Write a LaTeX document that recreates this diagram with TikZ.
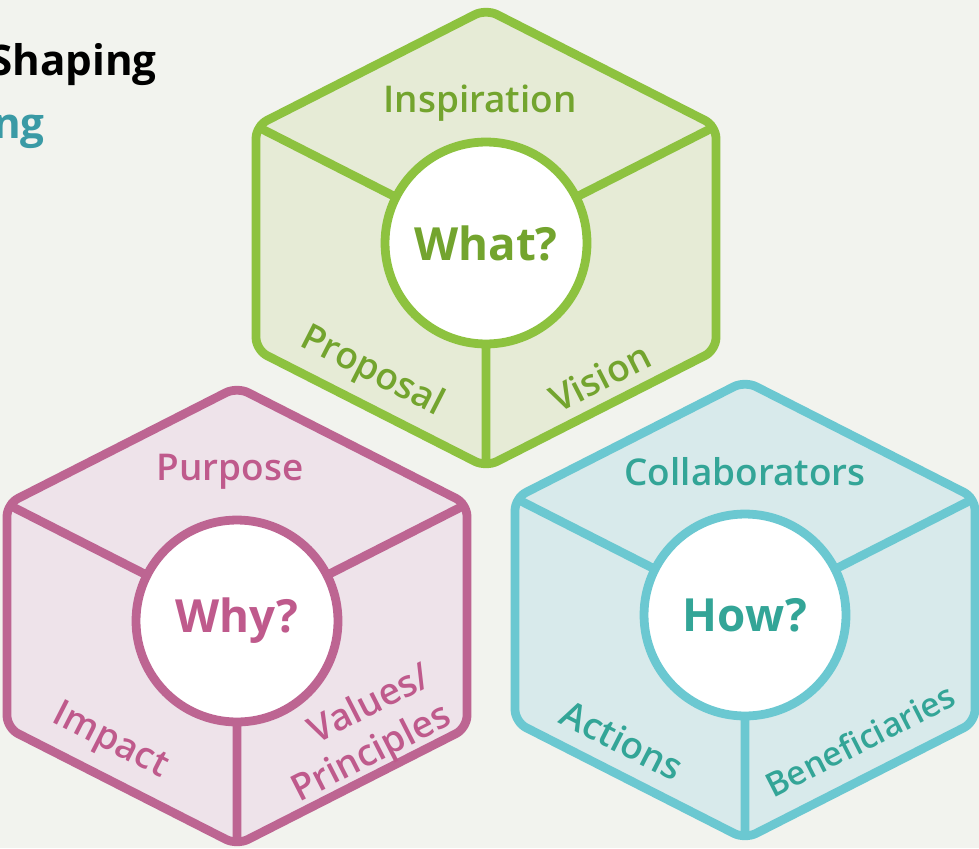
\documentclass[tikz,border=0pt]{standalone}
\usepackage{fontspec}
\setmainfont{Open Sans}[BoldFont={Open Sans Semibold}]
\newfontfamily\titlefont{Open Sans}
\usepackage{tikz}

\definecolor{paper}{HTML}{F2F3EE}
\definecolor{greenline}{HTML}{8DC23F}
\definecolor{greenfill}{HTML}{E6EBD6}
\definecolor{greentext}{HTML}{73A42E}
\definecolor{pinkline}{HTML}{BD6592}
\definecolor{pinkfill}{HTML}{EEE3EA}
\definecolor{pinktext}{HTML}{BF5A8C}
\definecolor{tealline}{HTML}{6BC8D1}
\definecolor{tealfill}{HTML}{D8EAEB}
\definecolor{tealtext}{HTML}{33A597}
\definecolor{titleteal}{HTML}{3A9AA5}

\tikzset{
  face/.style={line width=5pt, line join=round, rounded corners=7pt},
  edge/.style={line width=5pt, shorten <=3pt},
  hub/.style={circle, draw, fill=white, line width=5pt, minimum size=4.04cm, inner sep=0pt, font=\titlefont\bfseries\fontsize{26}{30}\selectfont},
  lbl/.style={inner sep=0pt, font=\bfseries\fontsize{21}{25}\selectfont},
}

\begin{document}
\begin{tikzpicture}[x=0.02cm,y=-0.02cm]
		\useasboundingbox (0,0) rectangle (979,848);
		\clip (0,0) rectangle (979,848);
		\fill[paper] (0,0) rectangle (979,848);
		
		\node[anchor=base east, inner sep=0pt, font=\titlefont\bfseries\fontsize{24}{28}\selectfont] (shaping) at (157,75) {Shaping};
		\node[anchor=base east, inner sep=0pt, text=titleteal, font=\titlefont\bfseries\fontsize{24}{28}\selectfont] (ng) at (45,138) {ng};
		
		% What?
		\coordinate (g-t) at (486,9);
		\coordinate (g-ur) at (716,126);
		\coordinate (g-lr) at (716,350);
		\coordinate (g-b) at (486,467);
		\coordinate (g-ll) at (256,350);
		\coordinate (g-ul) at (256,126);
		\coordinate (g-c) at (486,243);
		\draw[face, draw=greenline, fill=greenfill] (g-t) -- (g-ur) -- (g-lr) -- (g-b) -- (g-ll) -- (g-ul) -- cycle;
		\draw[edge, greenline] (g-ul) -- (g-c) (g-ur) -- (g-c) (g-b) -- (g-c);
		\node[hub, draw=greenline, text=greentext] (what) at (g-c) {What?};
		\node[lbl, text=greentext] (inspiration) at (480,103) {Inspiration};
		\node[lbl, text=greentext, rotate=-27] (proposal) at (372,372) {Proposal};
		\node[lbl, text=greentext, rotate=27] (vision) at (600,377) {Vision};
		
		% Why?
		\coordinate (p-t) at (237,387);
		\coordinate (p-ur) at (467,504);
		\coordinate (p-lr) at (467,728);
		\coordinate (p-b) at (237,845);
		\coordinate (p-ll) at (7,728);
		\coordinate (p-ul) at (7,504);
		\coordinate (p-c) at (237,621);
		\draw[face, draw=pinkline, fill=pinkfill] (p-t) -- (p-ur) -- (p-lr) -- (p-b) -- (p-ll) -- (p-ul) -- cycle;
		\draw[edge, pinkline] (p-ul) -- (p-c) (p-ur) -- (p-c) (p-b) -- (p-c);
		\node[hub, draw=pinkline, text=pinktext] (why) at (p-c) {Why?};
		\node[lbl, text=pinktext] (purpose) at (230,472) {Purpose};
		\node[lbl, text=pinktext, rotate=-27] (impact) at (110,742) {Impact};
		\node[lbl, text=pinktext, rotate=27, align=right] (values) at (362,735) {Values/\\Principles};
		
		% How?
		\coordinate (t-t) at (745,381);
		\coordinate (t-ur) at (975,498);
		\coordinate (t-lr) at (975,722);
		\coordinate (t-b) at (745,839);
		\coordinate (t-ll) at (515,722);
		\coordinate (t-ul) at (515,498);
		\coordinate (t-c) at (745,615);
		\draw[face, draw=tealline, fill=tealfill] (t-t) -- (t-ur) -- (t-lr) -- (t-b) -- (t-ll) -- (t-ul) -- cycle;
		\draw[edge, tealline] (t-ul) -- (t-c) (t-ur) -- (t-c) (t-b) -- (t-c);
		\node[hub, draw=tealline, text=tealtext] (how) at (t-c) {How?};
		\node[lbl, text=tealtext] (collaborators) at (745,472) {Collaborators};
		\node[lbl, text=tealtext, rotate=-27] (actions) at (622,740) {Actions};
		\node[lbl, text=tealtext, rotate=27, font=\bfseries\fontsize{19}{23}\selectfont] (beneficiaries) at (860,740) {Beneficiaries};
		
\end{tikzpicture}
\end{document}
